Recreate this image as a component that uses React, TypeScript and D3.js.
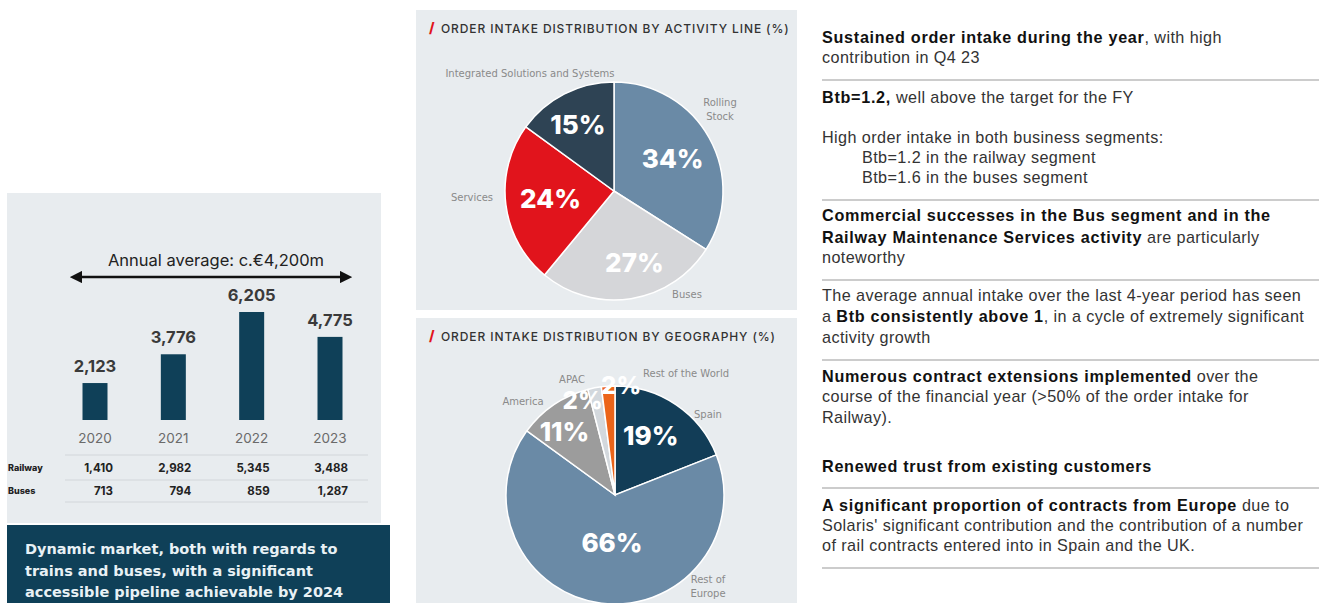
import React from 'react';
import * as d3 from 'd3';

// ---------- DATA ----------
const years = ['2020', '2021', '2022', '2023'];
const totalIntake = [2123, 3776, 6205, 4775];
const railwayIntake = [1410, 2982, 5345, 3488];
const busesIntake = [713, 794, 859, 1287];

const activityLines = ['Rolling Stock', 'Buses', 'Services', 'Integrated Solutions and Systems'];
const activityShares = [34, 27, 24, 15];

const geographies = ['Spain', 'Rest of Europe', 'America', 'APAC', 'Rest of the World'];
const geographyShares = [19, 66, 11, 2, 2];

// ---------- STYLE / LAYOUT ----------
const W = 1319;
const H = 603;
const FONT = 'Inter, "Open Sans", sans-serif';
const WIDE = '"DejaVu Sans", Verdana, sans-serif';
const TXT = '"Liberation Sans", Arial, sans-serif';
const NAVY = '#0f4058';
const PANEL = '#e8ecef';

const activityColors = ['#6a8aa6', '#d5d6d9', '#e1141c', '#2e4354'];
const geoColors = ['#123d57', '#6a8aa6', '#9c9c9c', '#d3d8dd', '#ec6419'];

// label radii (pixels from pie centre) and small nudges for the percentage labels
const activityLabelR = [67, 73, 64, 75];
const activityNudge: [number, number][] = [[0, 0], [9, 0], [0, 0], [-2, 0]];
const geoLabelR = [69, 48, 81, 93, 110];
const geoNudge: [number, number][] = [[-3, -2], [3, 0], [-5, 4], [-15, -3], [13, 0]];

type Seg = { t: string; b?: boolean };
type Line = { y: number; x?: number; segs: Seg[] };

const rightLines: Line[] = [
  { y: 43, segs: [{ t: 'Sustained order intake during the year', b: true }, { t: ', with high' }] },
  { y: 63, segs: [{ t: 'contribution in Q4 23' }] },
  { y: 103, segs: [{ t: 'Btb=1.2,', b: true }, { t: ' well above the target for the FY' }] },
  { y: 143, segs: [{ t: 'High order intake in both business segments:' }] },
  { y: 163, x: 862, segs: [{ t: 'Btb=1.2 in the railway segment' }] },
  { y: 183, x: 862, segs: [{ t: 'Btb=1.6 in the buses segment' }] },
  { y: 221, segs: [{ t: 'Commercial successes in the Bus segment and in the', b: true }] },
  { y: 243, segs: [{ t: 'Railway Maintenance Services activity', b: true }, { t: ' are particularly' }] },
  { y: 263, segs: [{ t: 'noteworthy' }] },
  { y: 301, segs: [{ t: 'The average annual intake over the last 4-year period has seen' }] },
  { y: 322, segs: [{ t: 'a ' }, { t: 'Btb consistently above 1', b: true }, { t: ', in a cycle of extremely significant' }] },
  { y: 343, segs: [{ t: 'activity growth' }] },
  { y: 382, segs: [{ t: 'Numerous contract extensions implemented', b: true }, { t: ' over the' }] },
  { y: 402, segs: [{ t: 'course of the financial year (>50% of the order intake for' }] },
  { y: 423, segs: [{ t: 'Railway).' }] },
  { y: 472, segs: [{ t: 'Renewed trust from existing customers', b: true }] },
  { y: 511, segs: [{ t: 'A significant proportion of contracts from Europe', b: true }, { t: ' due to' }] },
  { y: 531, segs: [{ t: "Solaris' significant contribution and the contribution of a number" }] },
  { y: 551, segs: [{ t: 'of rail contracts entered into in Spain and the UK.' }] },
];
const rightRules = [80, 200, 280, 360, 488, 568];

function PieBlock(props: {
  cx: number; cy: number; r: number; values: number[]; colors: string[]; labelR: number[];
  nudge: [number, number][]; fontSizes: number[];
}) {
  const { cx, cy, r, values, colors, labelR, nudge, fontSizes } = props;
  const arcs = d3.pie<number>().sort(null).value((d) => d)(values);
  const arcGen = d3.arc<d3.PieArcDatum<number>>().innerRadius(0).outerRadius(r);
  return (
    <g transform={`translate(${cx},${cy})`}>
      {arcs.map((a, i) => (
        <path key={i} d={arcGen(a) || ''} fill={colors[i]} stroke="#ffffff" strokeWidth={1.5} />
      ))}
      {arcs.map((a, i) => {
        const lg = d3.arc<d3.PieArcDatum<number>>().innerRadius(labelR[i]).outerRadius(labelR[i]);
        const [x, y] = lg.centroid(a);
        return (
          <text key={'l' + i} x={x + nudge[i][0]} y={y + nudge[i][1]} dy="0.36em" textAnchor="middle"
            fill="#ffffff" fontFamily={FONT} fontWeight={800} fontSize={fontSizes[i]}>
            {`${values[i]}%`}
          </text>
        );
      })}
    </g>
  );
}

export default function App() {
  const x = d3.scalePoint<string>().domain(years).range([95, 330]);
  const y = d3.scaleLinear().domain([0, 6205]).range([420, 312]);
  const barW = 25;
  const fmt = d3.format(',');

  const catStyle = { fontFamily: WIDE, fontSize: 10, fill: '#8a8a8a' } as const;
  const titleStyle = { fontFamily: FONT, fontWeight: 500, fontSize: 12, letterSpacing: 0.9, fill: '#333' } as const;

  return (
    <div style={{ position: 'absolute', left: 0, top: 0, width: W, height: H, background: '#fff' }}>
      <svg width={W} height={H} viewBox={`0 0 ${W} ${H}`} style={{ display: 'block' }}>
        <defs>
          <marker id="arrowL" viewBox="0 0 10 10" refX="1" refY="5" markerWidth="5" markerHeight="5" orient="auto-start-reverse">
            <path d="M0,0 L10,5 L0,10 z" fill="#111" />
          </marker>
          <clipPath id="geoClip"><rect x={416} y={318} width={381} height={285} /></clipPath>
        </defs>
        <rect width={W} height={H} fill="#fff" />

        {/* ---------- LEFT PANEL ---------- */}
        <rect x={7} y={193} width={374} height={330} fill={PANEL} />
        <text x={216} y={266} textAnchor="middle" fontFamily={FONT} fontSize={16.5} fill="#222">
          Annual average: c.€4,200m
        </text>
        <line x1={81} x2={341} y1={277} y2={277} stroke="#111" strokeWidth={2.5}
          markerStart="url(#arrowL)" markerEnd="url(#arrowL)" />
        {years.map((yr, i) => (
          <g key={yr}>
            <rect x={(x(yr) as number) - barW / 2} y={y(totalIntake[i])} width={barW}
              height={y(0) - y(totalIntake[i])} fill={NAVY} />
            <text x={x(yr)} y={y(totalIntake[i]) - 11} textAnchor="middle" fontFamily={FONT}
              fontWeight={700} fontSize={16.5} fill="#3a3a3a">{fmt(totalIntake[i])}</text>
            <text x={x(yr)} y={443} textAnchor="middle" fontFamily={FONT} fontSize={13.5} fill="#6a6a6a">{yr}</text>
            <text x={(x(yr) as number) + 18} y={472} textAnchor="end" fontFamily={FONT} fontWeight={700}
              fontSize={11.5} fill="#222">{fmt(railwayIntake[i])}</text>
            <text x={(x(yr) as number) + 18} y={495} textAnchor="end" fontFamily={FONT} fontWeight={700}
              fontSize={11.5} fill="#222">{fmt(busesIntake[i])}</text>
          </g>
        ))}
        {[455, 480, 502].map((ly) => (
          <line key={ly} x1={65} x2={368} y1={ly} y2={ly} stroke="#d2d6da" strokeWidth={1} />
        ))}
        <text x={8} y={471} fontFamily={FONT} fontWeight={800} fontSize={9} fill="#222">Railway</text>
        <text x={8} y={494} fontFamily={FONT} fontWeight={800} fontSize={9} fill="#222">Buses</text>

        <rect x={7} y={525} width={383} height={78} fill={NAVY} />
        {['Dynamic market, both with regards to', 'trains and buses, with a significant',
          'accessible pipeline achievable by 2024'].map((t, i) => (
          <text key={i} x={25} y={554 + i * 21.5} fontFamily={WIDE} fontWeight={700} fontSize={14.5}
            fill="#e8f1f5">{t}</text>
        ))}

        {/* ---------- PIE 1 ---------- */}
        <rect x={416} y={10} width={381} height={300} fill={PANEL} />
        <text x={429} y={33} fontFamily={FONT} fontWeight={800} fontSize={14} fill="#e1141c">/</text>
        <text x={441} y={33} {...titleStyle}>ORDER INTAKE DISTRIBUTION BY ACTIVITY LINE (%)</text>
        <PieBlock cx={614} cy={191} r={109} values={activityShares} colors={activityColors}
          labelR={activityLabelR} nudge={activityNudge} fontSizes={[26, 26, 26, 26]} />
        <text x={720} y={106} textAnchor="middle" {...catStyle}>Rolling</text>
        <text x={720} y={120} textAnchor="middle" {...catStyle}>Stock</text>
        <text x={687} y={298} textAnchor="middle" {...catStyle}>{activityLines[1]}</text>
        <text x={472} y={201} textAnchor="middle" {...catStyle}>{activityLines[2]}</text>
        <text x={530} y={77} textAnchor="middle" {...catStyle}>{activityLines[3]}</text>

        {/* ---------- PIE 2 ---------- */}
        <rect x={416} y={318} width={381} height={285} fill={PANEL} />
        <text x={429} y={341} fontFamily={FONT} fontWeight={800} fontSize={14} fill="#e1141c">/</text>
        <text x={441} y={341} {...titleStyle}>ORDER INTAKE DISTRIBUTION BY GEOGRAPHY (%)</text>
        <g clipPath="url(#geoClip)">
          <PieBlock cx={615} cy={495} r={109} values={geographyShares} colors={geoColors}
            labelR={geoLabelR} nudge={geoNudge} fontSizes={[26, 26, 26, 24, 24]} />
        </g>
        <text x={708} y={418} textAnchor="middle" {...catStyle}>{geographies[0]}</text>
        <text x={708} y={583} textAnchor="middle" {...catStyle}>Rest of</text>
        <text x={708} y={597} textAnchor="middle" {...catStyle}>Europe</text>
        <text x={523} y={405} textAnchor="middle" {...catStyle}>{geographies[2]}</text>
        <text x={572} y={383} textAnchor="middle" {...catStyle}>{geographies[3]}</text>
        <text x={686} y={377} textAnchor="middle" {...catStyle}>{geographies[4]}</text>

        {/* ---------- RIGHT TEXT ---------- */}
        {rightRules.map((ry) => (
          <line key={ry} x1={822} x2={1319} y1={ry} y2={ry} stroke="#9a9a9a" strokeWidth={1.2} />
        ))}
        {rightLines.map((ln, i) => (
          <text key={i} x={ln.x ?? 822} y={ln.y} fontFamily={TXT} fontSize={16.2} fill="#222">
            {ln.segs.map((s, j) => (
              <tspan key={j} fontWeight={s.b ? 700 : 400} letterSpacing={s.b ? 0.7 : 0.4}
                fill={s.b ? '#111' : '#333'}>{s.t}</tspan>
            ))}
          </text>
        ))}
      </svg>
    </div>
  );
}
